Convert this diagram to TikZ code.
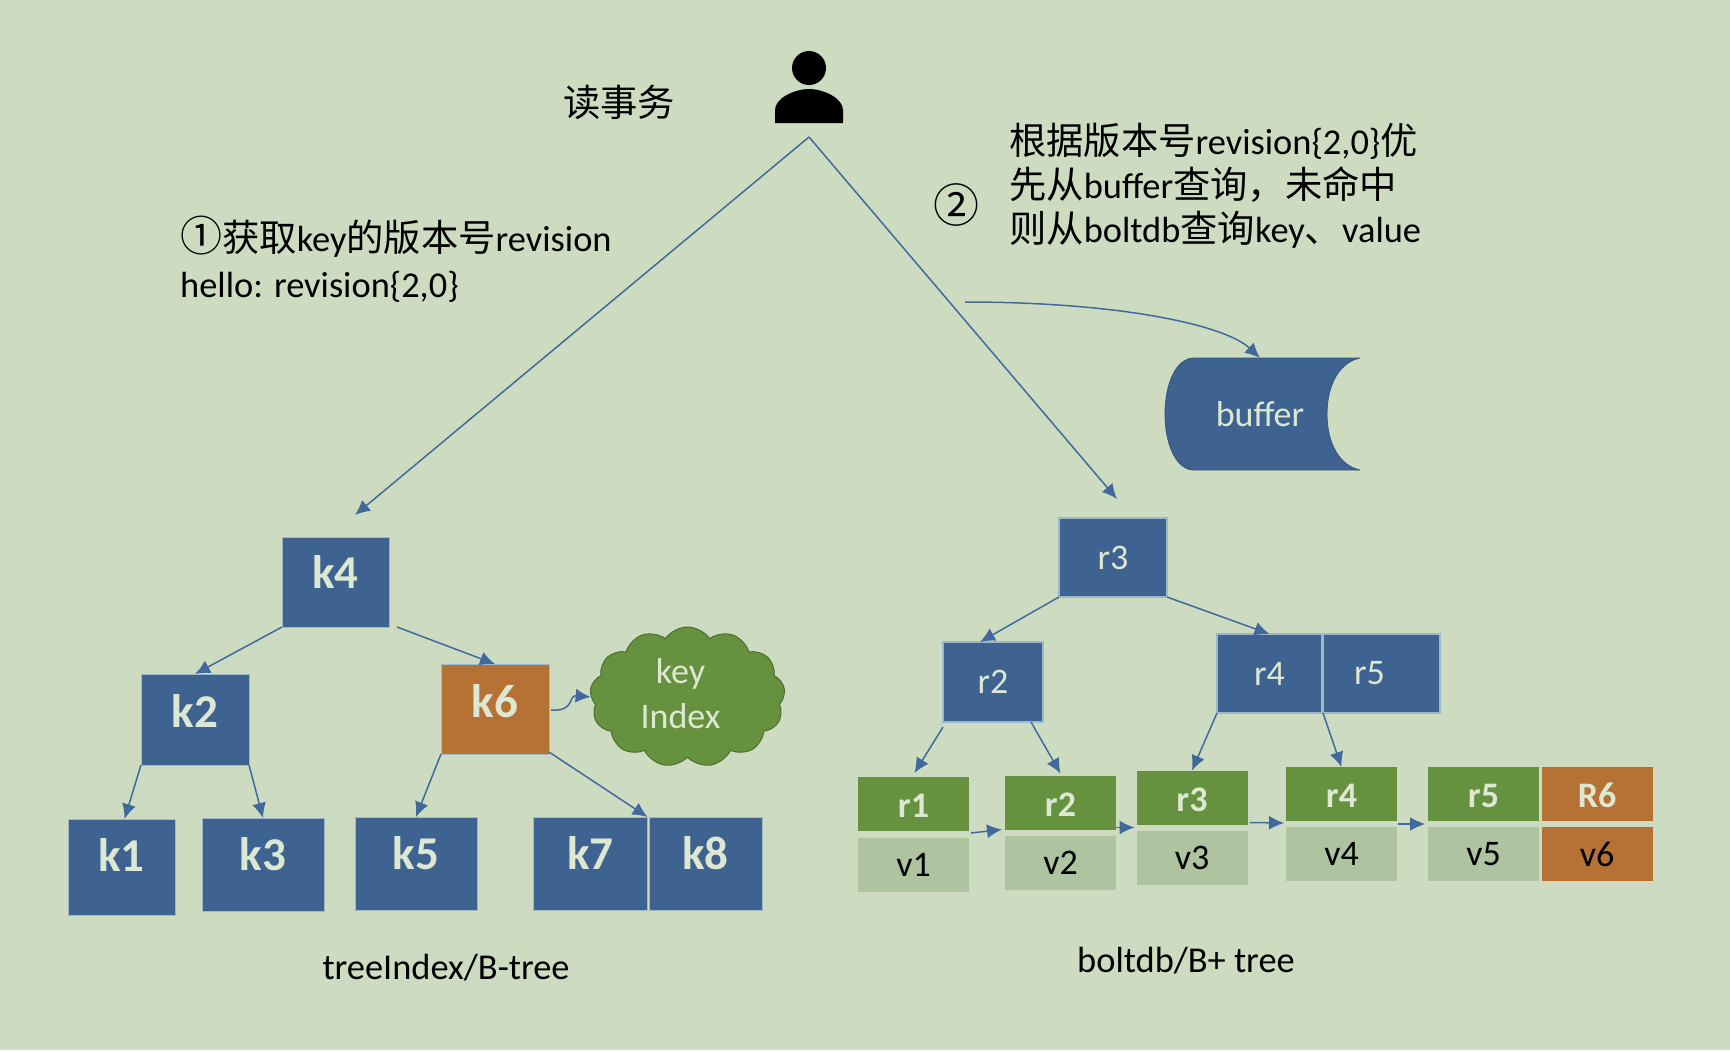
\documentclass[tikz,border=0pt]{standalone}
\usepackage{fontspec}
\setmainfont{Carlito}
\newfontfamily\cjk{Noto Sans CJK SC}
\newcommand{\zh}[1]{{\cjk\fontsize{37.3}{44}\selectfont #1}}
\usetikzlibrary{arrows.meta,shapes.symbols}
\definecolor{bgcol}{HTML}{CDDCC1}
\definecolor{bluecol}{HTML}{3E6391}
\definecolor{edgecol}{HTML}{9DB8C8}
\definecolor{greencol}{HTML}{66923F}
\definecolor{orangecol}{HTML}{B57234}
\definecolor{palecol}{HTML}{AEC4A0}
\definecolor{linkcol}{HTML}{41699C}
\definecolor{lightcol}{HTML}{DDE8D2}
\tikzset{
    size/.style 2 args={minimum width=#1pt, minimum height=#2pt},
    box/.style={rectangle, inner sep=0pt, outer sep=0pt},
    kbox/.style={box, fill=bluecol, draw=edgecol, line width=0.8pt, text=lightcol,
        font=\fontsize{47}{47}\selectfont\bfseries, text height=22pt, text depth=10pt},
    rbox/.style={box, fill=bluecol, draw=edgecol, line width=1.5pt, text=lightcol,
        font=\fontsize{36}{36}\selectfont},
    leaf/.style={box, size={111}{54}, fill=greencol, text=lightcol,
        font=\fontsize{36}{36}\selectfont\bfseries, text height=27pt, text depth=0pt},
    val/.style={box, size={111}{54}, fill=palecol, text=black,
        font=\fontsize{36}{36}\selectfont},
    note/.style={inner sep=0pt, font=\fontsize{36.4}{44}\selectfont, align=left},
    link/.style={draw=linkcol, line width=1.5pt, -{Latex[length=15pt,width=14pt]}},
}
\begin{document}
\begin{tikzpicture}[x=1pt, y=-1pt]
    \fill[bgcol] (0,0) rectangle (1730,1050);

    % Reader
    \fill (809,68) circle (17);
    \fill (775,123) -- (775,110) .. controls (775,98) and (795,89) .. (809,89)
        .. controls (823,89) and (843,98) .. (843,110) -- (843,123) -- cycle;
    \coordinate (apex) at (809,137);
    \coordinate (k4in) at (355,515);
    \coordinate (r3in) at (1117,499);
    \coordinate (bufout) at (965,302);

    % Texts
    \node[note, anchor=center] (reader) at (619,102) {\zh{读事务}};
    \node[note, anchor=base west] (step1) at (180,251) {{\cjk\fontsize{42}{44}\selectfont ①}\zh{获取}key\zh{的版本号}revision};
    \node[note, anchor=base west] (step1b) at (180,297) {hello: revision\{2,0\}};
    \node[note, anchor=center, font=\cjk\fontsize{46}{46}\selectfont] (step2) at (956,205) {②};
    \node[note, anchor=west] (step2b) at (1009,186) {\zh{根据版本号}revision\{2,0\}\zh{优}\\\zh{先从}buffer\zh{查询，未命中}\\\zh{则从}boltdb\zh{查询}key\zh{、}value};
    \node[note] (titleb) at (446,968) {treeIndex/B-tree};
    \node[note] (titler) at (1186,961) {boltdb/B+ tree};

    % Buffer
    \fill[bluecol, draw=linkcol!80!black, line width=0.8pt, line join=round] (1360,358) -- (1194,358)
        .. controls (1176,358) and (1165,384) .. (1165,414)
        .. controls (1165,444) and (1176,470) .. (1194,470) -- (1360,470)
        .. controls (1340,466) and (1327,444) .. (1327,414)
        .. controls (1327,384) and (1340,362) .. (1360,358) -- cycle;
    \node[box, size={200}{112}, text=lightcol, font=\fontsize{36}{36}\selectfont] (buffer) at (1260,414) {buffer};

    % treeIndex
    \node[kbox, size={107}{90}] (k4) at (335.5,582) {k4};
    \node[kbox, size={108}{91}, text height=26pt] (k2) at (195,719.5) {k2};
    \node[kbox, size={108}{90}, fill=orangecol, text height=26pt] (k6) at (495,709) {k6};
    \node[kbox, size={107}{96}, text height=18pt] (k1) at (121.5,867) {k1};
    \node[kbox, size={122}{93}] (k3) at (263,864.5) {k3};
    \node[kbox, size={122}{93}] (k5) at (416,863.5) {k5};
    \node[kbox, size={114}{93}] (k7) at (590.5,863.5) {k7};
    \node[kbox, size={113}{93}] (k8) at (705.5,863.5) {k8};
    \node[cloud, cloud puffs=13, cloud puff arc=110, aspect=1.4, size={195}{140}, inner sep=0pt,
        fill=greencol, draw=greencol!75!black, line width=1pt, text=lightcol, align=center,
        font=\fontsize{36}{45}\selectfont] (cloud) at (687.5,697) {key\hspace{14pt}\null\\Index\hspace{14pt}\null\par\vspace*{6pt}};

    % boltdb
    \node[rbox, size={108}{79}] (r3) at (1113,557.5) {r3};
    \node[rbox, size={100}{80}] (r2) at (993,682) {r2};
    \node[rbox, size={105}{79}] (r4) at (1269.5,673.5) {r4};
    \node[rbox, size={117}{79}] (r5) at (1381.5,673.5) {r5\hspace{24pt}\null};
    \node[leaf] (l1) at (913.5,804) {r1};
    \node[val] (v1) at (913.5,865) {v1};
    \node[leaf] (l2) at (1060.5,802.5) {r2};
    \node[val] (v2) at (1060.5,863) {v2};
    \node[leaf] (l3) at (1192,797.5) {r3};
    \node[val] (v3) at (1192,858) {v3};
    \node[leaf] (l4) at (1341.5,794) {r4};
    \node[val] (v4) at (1341.5,854) {v4};
    \node[leaf] (l5) at (1483.5,794) {r5};
    \node[val] (v5) at (1483.5,854) {v5};
    \node[leaf, fill=orangecol] (l6) at (1597,794) {R6};
    \node[val, fill=orangecol] (v6) at (1597,854) {v6};

    % Links
    \draw[link] (apex) -- (k4in);
    \draw[link] (apex) -- (r3in);
    \draw[link] (bufout) .. controls (1120,302) and (1225,325) .. (buffer.north);

    \draw[link] (k4.south west) -- (k2.north);
    \draw[link] ([xshift=8pt]k4.south east) -- (k6.north);
    \draw[link] (k2.south west) -- ([xshift=3pt]k1.north);
    \draw[link] (k2.south east) -- (k3.north);
    \draw[link] (k6.south west) -- (k5.north);
    \draw[link] ([yshift=2pt]k6.south east) -- (k7.north east);
    \draw[link] ([xshift=2pt,yshift=-1pt]k6.east) .. controls (575,712) and (568,695) .. (cloud.west);

    \draw[link] (r3.south west) -- ([xshift=-13pt]r2.north);
    \draw[link] (r3.south east) -- (r4.north);
    \draw[link] ([yshift=-5pt]r2.south west) -- ([xshift=1pt,yshift=4pt]l1.north);
    \draw[link] ([xshift=-12pt]r2.south east) -- ([yshift=2pt]l2.north);
    \draw[link] (r4.south west) -- (l3.north);
    \draw[link] (r5.south west) -- (l4.north);

    \draw[link] ([xshift=2pt,yshift=-2pt]l1.south east) -- ([xshift=-3pt]l2.south west);
    \draw[link] ([yshift=2pt]l2.south east) -- ([xshift=-2pt,yshift=-3pt]l3.south west);
    \draw[link] ([xshift=2pt,yshift=2pt]l3.south east) -- ([xshift=-2pt,yshift=-2pt]l4.south west);
    \draw[link] ([xshift=1pt,yshift=-3pt]l4.south east) -- ([xshift=-3pt,yshift=-3pt]l5.south west);
\end{tikzpicture}
\end{document}
